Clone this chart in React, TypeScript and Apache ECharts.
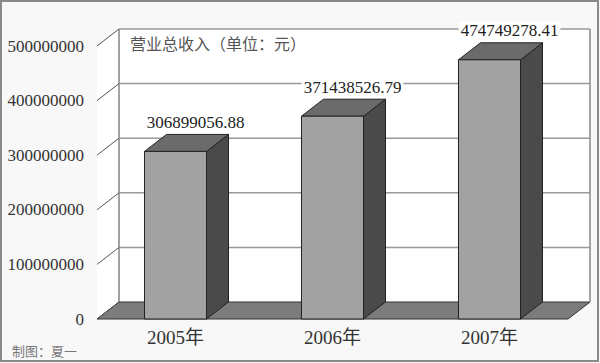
import React, { useEffect, useRef } from "react";
import * as echarts from "echarts";

const categories = ["2005年", "2006年", "2007年"];
const revenue = [306899056.88, 371438526.79, 474749278.41];
const yTicks = [0, 100000000, 200000000, 300000000, 400000000, 500000000];
const chartTitle = "营业总收入（单位：元）";
const credit = "制图：夏一";

const DX = 22;
const DY = -17;
const SERIF = "Liberation Serif, Times New Roman, serif";

export default function App() {
  const ref = useRef<HTMLDivElement>(null);
  useEffect(() => {
    if (!ref.current) return;
    const chart = echarts.init(ref.current, null, { renderer: "svg" });
    const yMax = yTicks[yTicks.length - 1];

    const renderFrame = (params: any, api: any) => {
      const cs = params.coordSys;
      const v = api.value(1);
      const y = api.coord([0, v])[1];
      const yTop = api.coord([0, yMax])[1];
      const y0 = api.coord([0, 0])[1];
      const xl = cs.x;
      const xr = cs.x + cs.width;
      const children: any[] = [];
      if (params.dataIndex === 0) {
        children.push({
          type: "polygon",
          shape: { points: [[xl, yTop], [xl + DX, yTop + DY], [xl + DX, y0 + DY], [xl, y0]] },
          style: { fill: "#ffffff", stroke: null },
        });
        children.push({
          type: "rect",
          shape: { x: xl + DX, y: yTop + DY, width: xr - xl, height: y0 - yTop },
          style: { fill: "#ffffff", stroke: null },
        });
        children.push({
          type: "polygon",
          shape: { points: [[xl, y0], [xr, y0], [xr + DX, y0 + DY], [xl + DX, y0 + DY]] },
          style: { fill: "#7c7c7c", stroke: "#333", lineWidth: 1 },
        });
        children.push({
          type: "line",
          shape: { x1: xl + DX, y1: yTop + DY, x2: xl + DX, y2: y0 + DY },
          style: { stroke: "#666", lineWidth: 1.2 },
        });
        children.push({
          type: "line",
          shape: { x1: xr + DX, y1: yTop + DY, x2: xr + DX, y2: y0 + DY },
          style: { stroke: "#888", lineWidth: 1.5 },
        });
      } else {
        children.push({
          type: "line",
          shape: { x1: xl + DX, y1: y + DY, x2: xr + DX, y2: y + DY },
          style: { stroke: "#999", lineWidth: 1.5 },
        });
      }
      children.push({
        type: "line",
        shape: { x1: xl, y1: y, x2: xl + DX, y2: y + DY },
        style: { stroke: "#555", lineWidth: 1 },
      });
      return { type: "group", children };
    };

    const renderBar = (params: any, api: any) => {
      const i = api.value(0);
      const v = api.value(1);
      const [xc, yt] = api.coord([i, v]);
      const y0 = api.coord([i, 0])[1];
      const w = api.size([1, 0])[0] * 0.395;
      const xl = xc - w / 2;
      const xr = xc + w / 2;
      return {
        type: "group",
        children: [
          {
            type: "polygon",
            shape: { points: [[xr, yt], [xr + DX, yt + DY], [xr + DX, y0 + DY], [xr, y0]] },
            style: { fill: "#4a4a4a", stroke: "#222", lineWidth: 1 },
          },
          {
            type: "polygon",
            shape: { points: [[xl, yt], [xr, yt], [xr + DX, yt + DY], [xl + DX, yt + DY]] },
            style: { fill: "#6b6b6b", stroke: "#222", lineWidth: 1 },
          },
          {
            type: "rect",
            shape: { x: xl, y: yt, width: w, height: y0 - yt },
            style: { fill: "#a2a2a2", stroke: "#222", lineWidth: 1 },
          },
          {
            type: "text",
            x: xc + 20,
            y: yt + DY - 12,
            style: {
              text: v.toFixed(2),
              fill: "#222",
              fontSize: 17,
              fontFamily: SERIF,
              align: "center",
              verticalAlign: "middle",
              backgroundColor: "#ffffff",
              padding: [1, 2],
            },
          },
        ],
      };
    };

    chart.setOption({
      animation: false,
      backgroundColor: "#f8f8f8",
      grid: { left: 97, right: 32, top: 46, bottom: 44 },
      xAxis: {
        type: "category",
        data: categories,
        axisLine: { show: false },
        axisTick: { show: true, inside: true, length: 3, lineStyle: { color: "#444" } },
        axisLabel: {
          color: "#333",
          fontSize: 19,
          fontFamily: "Liberation Serif, Noto Sans CJK SC, serif",
          margin: 9,
        },
        splitLine: { show: false },
      },
      yAxis: {
        type: "value",
        min: 0,
        max: 500000000,
        interval: 100000000,
        axisLine: { show: true, lineStyle: { color: "#444", width: 1 } },
        axisTick: { show: false },
        splitLine: { show: false },
        axisLabel: {
          color: "#333",
          fontSize: 17,
          fontFamily: SERIF,
          margin: 13,
          formatter: (v: number) => String(v),
        },
      },
      graphic: [
        {
          type: "rect",
          z: 100,
          shape: { x: 1, y: 1, width: 597, height: 360 },
          style: { fill: "none", stroke: "#8a8a8a", lineWidth: 2 },
        },
        {
          type: "text",
          z: 100,
          x: 130,
          y: 43,
          style: {
            text: chartTitle,
            fill: "#555",
            fontSize: 16,
            fontFamily: "Noto Sans CJK SC",
            verticalAlign: "middle",
          },
        },
        {
          type: "text",
          z: 100,
          x: 12,
          y: 350,
          style: {
            text: credit,
            fill: "#777",
            fontSize: 13,
            fontFamily: "Noto Sans CJK SC",
            verticalAlign: "middle",
          },
        },
      ],
      series: [
        {
          type: "custom",
          renderItem: renderFrame,
          data: yTicks.map((t) => [0, t]),
          z: 1,
          silent: true,
        },
        {
          type: "custom",
          renderItem: renderBar,
          data: revenue.map((v, i) => [i, v]),
          z: 2,
        },
      ],
    });
    return () => chart.dispose();
  }, []);
  return (
    <div
      ref={ref}
      style={{ position: "absolute", left: 0, top: 0, width: 600, height: 363 }}
    />
  );
}
